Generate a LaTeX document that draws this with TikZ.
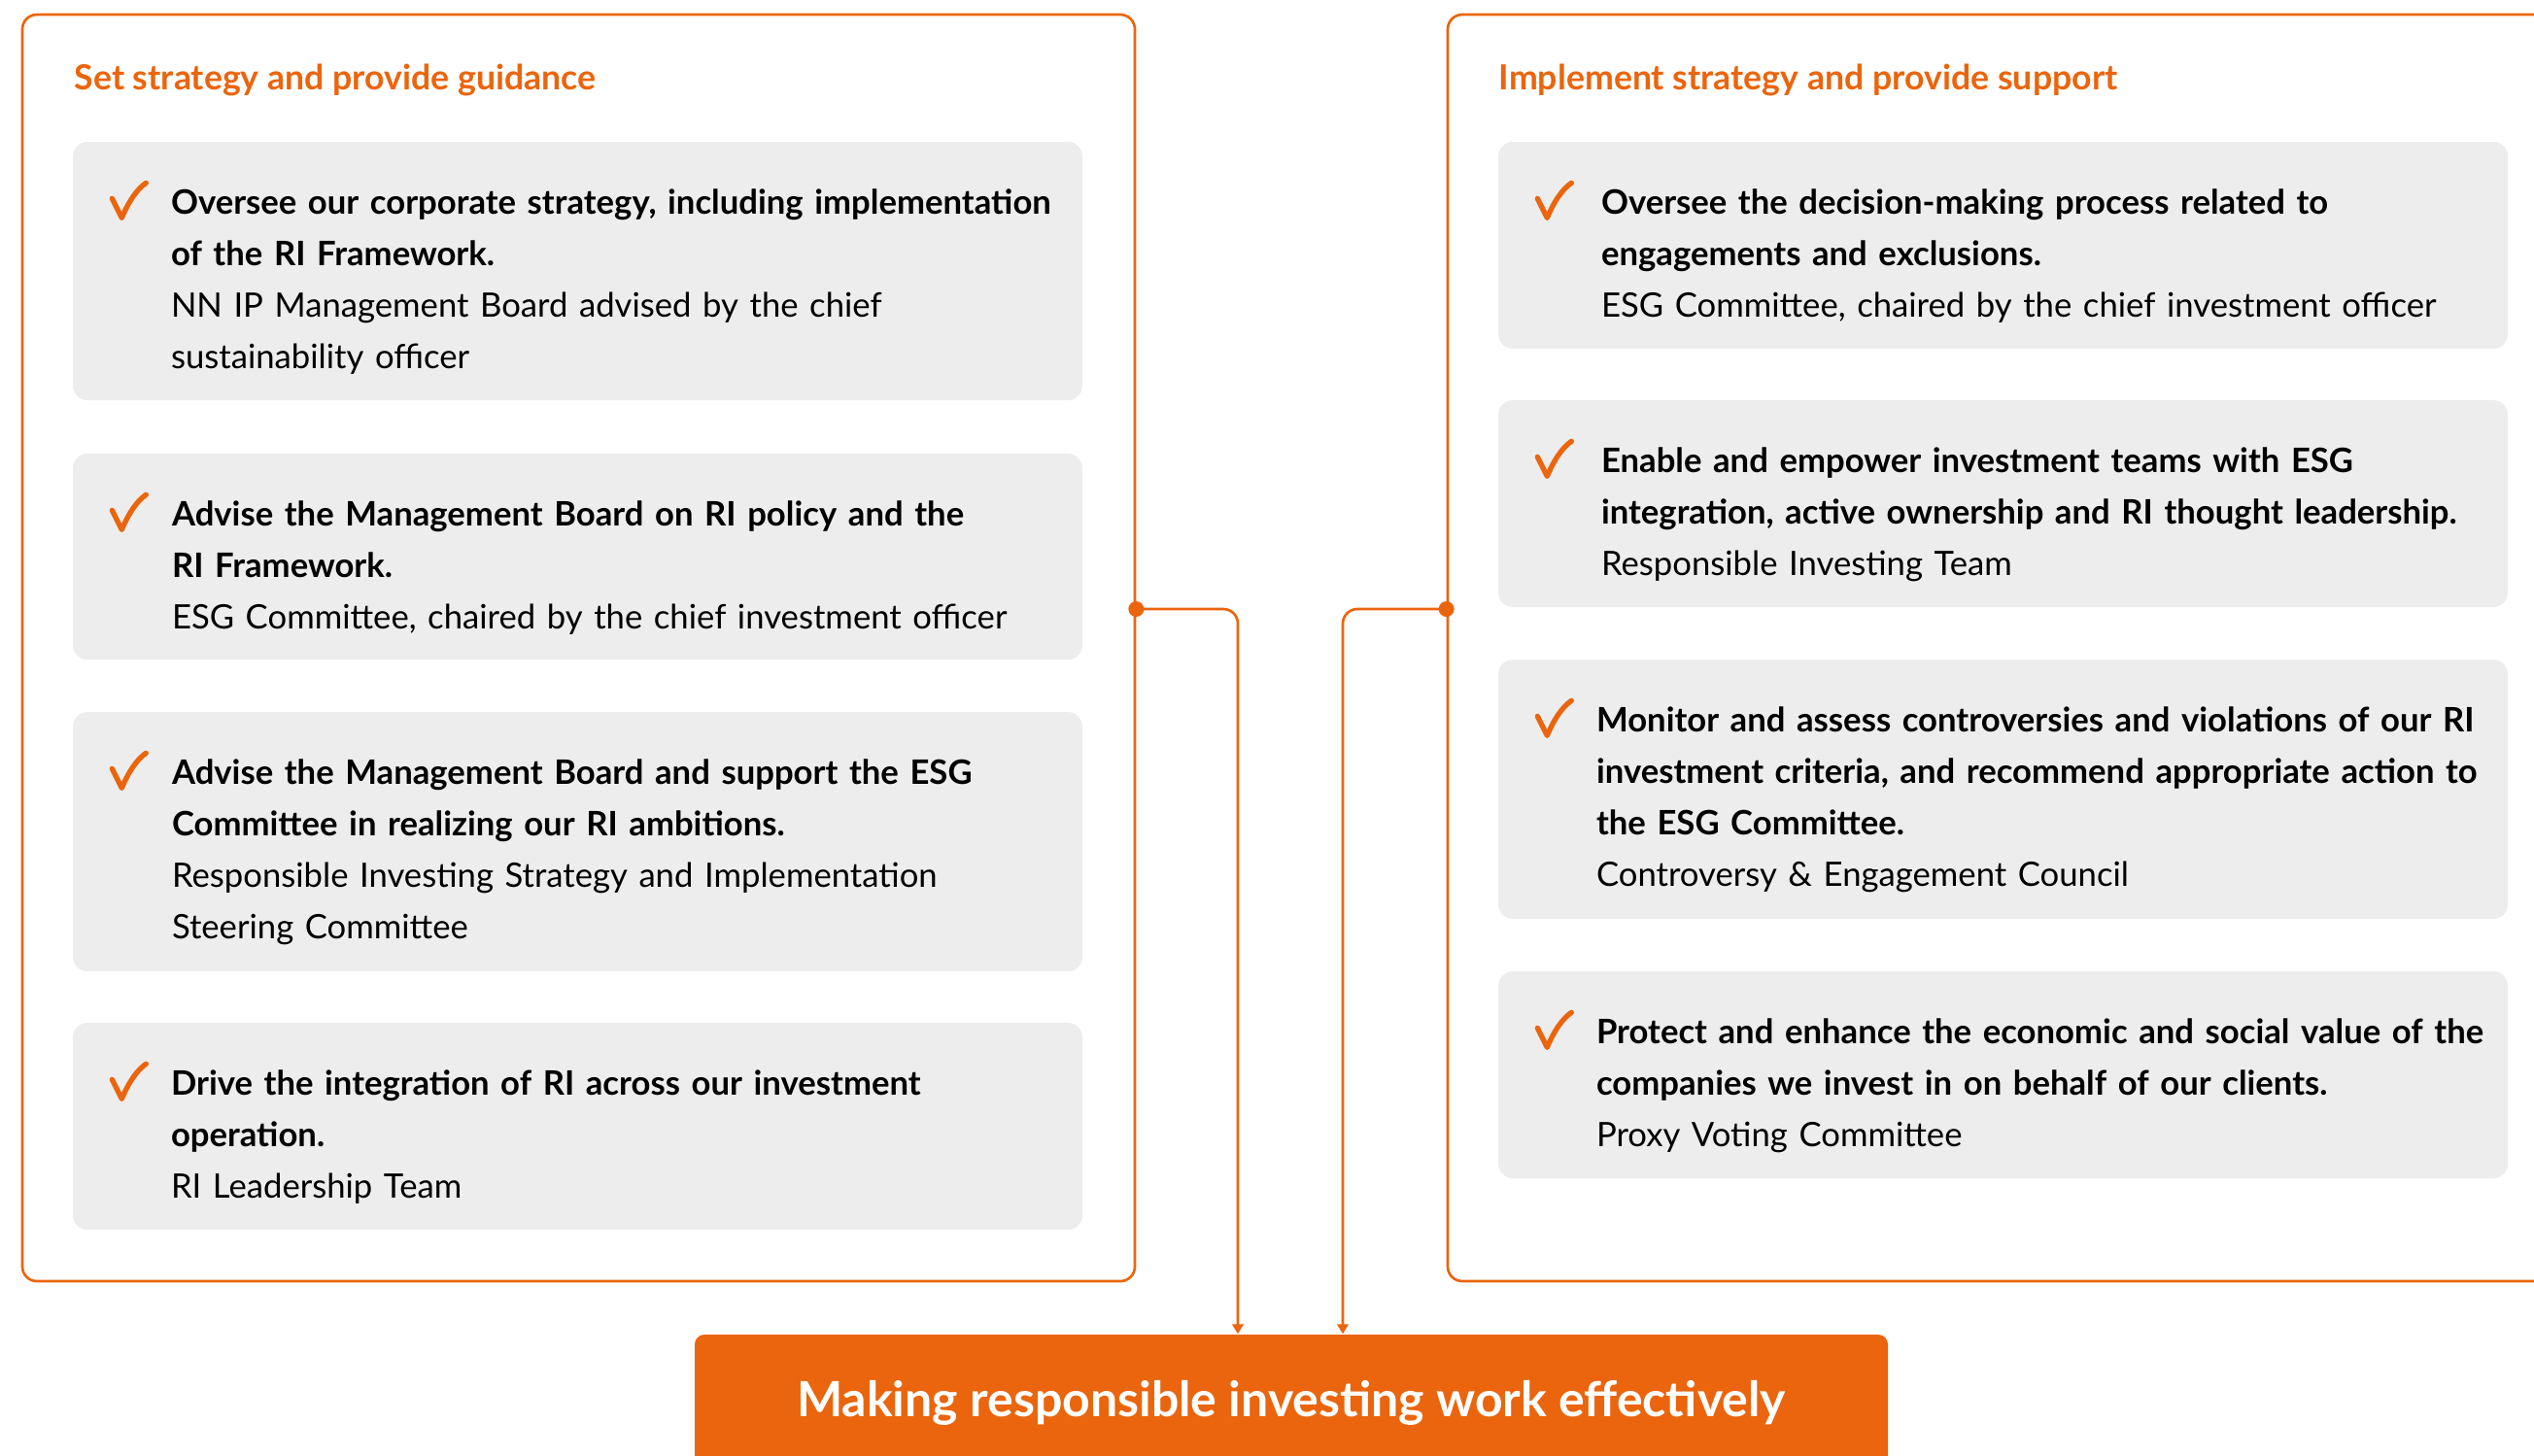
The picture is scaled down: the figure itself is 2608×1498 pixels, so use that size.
\documentclass[tikz,border=0pt]{standalone}
\usepackage{fontspec}
\setmainfont{Lato}
\usetikzlibrary{positioning,calc,fit,arrows.meta}
\definecolor{nnorange}{HTML}{EA650D}
\definecolor{cardgray}{HTML}{EDEDED}

\begin{document}
\begin{tikzpicture}[x=0.3pt,y=-0.3pt,
  panel/.style={draw=nnorange, line width=0.8pt, rounded corners=4.5pt, inner sep=0pt},
  card/.style={fill=cardgray, rounded corners=4.5pt, inner sep=0pt},
  head/.style={anchor=base west, inner sep=0pt, text=nnorange,
    font=\fontsize{10.7}{12}\selectfont\bfseries},
  item/.style={anchor=base west, inner sep=0pt, text width=340pt, align=left,
    font=\fontsize{10.4}{15.9}\selectfont},
  goalbox/.style={fill=nnorange, rounded corners=3pt, inner sep=0pt},
  goaltext/.style={anchor=base, inner sep=0pt, text=white,
    font=\fontsize{15}{17}\selectfont\bfseries},
  link/.style={draw=nnorange, line width=0.8pt, rounded corners=4.5pt,
    -{Triangle[length=3pt,width=3.4pt]}},
  checkmark/.pic={\draw[nnorange, line width=1.6pt, line cap=round, line join=round]
    (-17,-3) -- (-7,17) .. controls (0,0) and (9,-13) .. (18,-19);}
]
\useasboundingbox (0,0) rectangle (2608,1498);
\clip (0,0) rectangle (2608,1498);

% panels
\node[panel, fit={(23,15) (1168,1319)}] (guide) {};
\node[panel, fit={(1490,15) (2680,1319)}] (support) {};
\node[head] (guideh) at (76,92) {Set strategy and provide guidance};
\node[head] (supporth) at (1542,92) {Implement strategy and provide support};

% left cards
\node[card, fit={(75,146) (1114,412)}] (g1) {};
\pic at ($(g1.north west)+(58,62)$) {checkmark};
\node[item] (g1t) at ($(g1.north west)+(101,75)$)
  {\textbf{Oversee our corporate strategy, including implementation}\\
   \textbf{of the RI Framework.}\\
   NN IP Management Board advised by the chief\\
   sustainability officer};

\node[card, fit={(75,467) (1114,679)}] (g2) {};
\pic at ($(g2.north west)+(58,62)$) {checkmark};
\node[item] (g2t) at ($(g2.north west)+(102,75)$)
  {\textbf{Advise the Management Board on RI policy and the}\\
   \textbf{RI Framework.}\\
   ESG Committee, chaired by the chief investment officer};

\node[card, fit={(75,733) (1114,1000)}] (g3) {};
\pic at ($(g3.north west)+(58,62)$) {checkmark};
\node[item] (g3t) at ($(g3.north west)+(102,75)$)
  {\textbf{Advise the Management Board and support the ESG}\\
   \textbf{Committee in realizing our RI ambitions.}\\
   Responsible Investing Strategy and Implementation\\
   Steering Committee};

\node[card, fit={(75,1053) (1114,1266)}] (g4) {};
\pic at ($(g4.north west)+(58,62)$) {checkmark};
\node[item] (g4t) at ($(g4.north west)+(101,75)$)
  {\textbf{Drive the integration of RI across our investment}\\
   \textbf{operation.}\\
   RI Leadership Team};

% right cards
\node[card, fit={(1542,146) (2581,359)}] (s1) {};
\pic at ($(s1.north west)+(58,62)$) {checkmark};
\node[item] (s1t) at ($(s1.north west)+(106,75)$)
  {\textbf{Oversee the decision-making process related to}\\
   \textbf{engagements and exclusions.}\\
   ESG Committee, chaired by the chief investment officer};

\node[card, fit={(1542,412) (2581,625)}] (s2) {};
\pic at ($(s2.north west)+(58,62)$) {checkmark};
\node[item] (s2t) at ($(s2.north west)+(106,75)$)
  {\textbf{Enable and empower investment teams with ESG}\\
   \textbf{integration, active ownership and RI thought leadership.}\\
   Responsible Investing Team};

\node[card, fit={(1542,679) (2581,946)}] (s3) {};
\pic at ($(s3.north west)+(58,62)$) {checkmark};
\node[item] (s3t) at ($(s3.north west)+(101,75)$)
  {\textbf{Monitor and assess controversies and violations of our RI}\\
   \textbf{investment criteria, and recommend appropriate action to}\\
   \textbf{the ESG Committee.}\\
   Controversy \& Engagement Council};

\node[card, fit={(1542,1000) (2581,1213)}] (s4) {};
\pic at ($(s4.north west)+(58,62)$) {checkmark};
\node[item] (s4t) at ($(s4.north west)+(101,75)$)
  {\textbf{Protect and enhance the economic and social value of the}\\
   \textbf{companies we invest in on behalf of our clients.}\\
   Proxy Voting Committee};

% goal
\node[goalbox, fit={(715,1374) (1943,1560)}] (goal) {};
\node[goaltext] (goalt) at (1329,1458) {Making responsible investing work effectively};

% connectors
\coordinate (lj) at (guide.east |- 0,627);
\coordinate (rj) at (support.west |- 0,627);
\draw[link] (lj) -| ($(goal.north)+(-55,0)$);
\draw[link] (rj) -| ($(goal.north)+(53,0)$);
\fill[nnorange] (lj) circle (2.4pt) (rj) circle (2.4pt);
\end{tikzpicture}
\end{document}
